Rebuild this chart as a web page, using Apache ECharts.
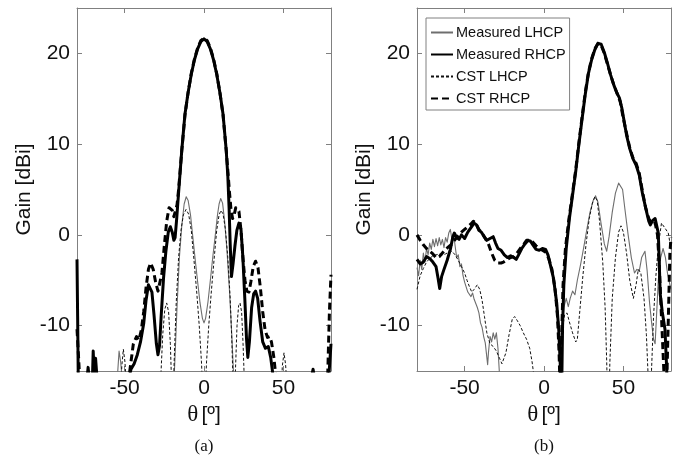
<!DOCTYPE html>
<html><head><meta charset="utf-8">
<script src="https://cdn.jsdelivr.net/npm/echarts@6/dist/echarts.min.js"></script>
<style>html,body{margin:0;padding:0;background:#fff}#c{width:686px;height:464px}</style>
</head><body><div id="c"></div>
<script>
// ---- axis ticks ----
const xTicks = [-50, 0, 50];
const yTicks = [-10, 0, 10, 20];
const seriesNames = ['Measured LHCP', 'Measured RHCP', 'CST LHCP', 'CST RHCP'];
const panelLabels = ['(a)', '(b)'];

// ---- panel (a): [theta (deg), gain (dBi)] ----
const aMeasLHCP = [[-80,-20],[-56,-20],[-54.5,-15.5],[-53.5,-12.8],[-52.5,-14],[-51.5,-16],[-50,-20],[-21,-20],[-19.5,-17],[-18.5,-14.5],[-17,-8],[-15.5,-2.5],[-14,1],[-12.5,3.4],[-11.2,4.2],[-10,3.8],[-8.5,2.2],[-7,-0.3],[-5.5,-2.8],[-4,-5.2],[-2.5,-7.5],[-1,-9.2],[0,-9.7],[1,-9.2],[2.5,-7.4],[4,-5],[5.5,-2.5],[7,-0.2],[8.5,2.2],[9.5,3.4],[10.5,4.0],[11.7,3.5],[13,1.5],[14.5,-1.8],[16,-6],[17.5,-11],[18.5,-14.8],[19.5,-18],[21,-20],[80,-20]];
const aMeasRHCP = [[-80,-2.7],[-79.6,-9],[-79.2,-16],[-78,-20],[-74.5,-20],[-73.5,-15.5],[-73,-14.6],[-72.3,-15.8],[-71,-20],[-70.3,-16],[-69.8,-12.8],[-69.2,-15.2],[-68.3,-13.6],[-67.3,-16],[-66,-20],[-50,-20],[-48,-16.5],[-46,-14.8],[-44,-14.2],[-42,-13.2],[-40,-11.8],[-38,-9.8],[-36.5,-7.2],[-35,-5.5],[-34,-5.3],[-32.8,-6.3],[-31.5,-8.8],[-30,-12],[-29,-13.2],[-28,-12.2],[-27,-9],[-25.5,-4.8],[-24,-1.8],[-22.5,0.3],[-21.2,0.9],[-20,0.3],[-19,-0.6],[-18.2,-0.3],[-17.2,1.8],[-16.2,4.2],[-15,7],[-14,9.3],[-12,13.3],[-10,15.7],[-8,17.7],[-6,19.3],[-4,20.5],[-2,21.3],[0,21.6],[2,21.3],[4,20.5],[6,19.3],[8,17.7],[10,15.7],[12,13.3],[14,9.3],[15,6.5],[15.8,3],[16.5,-1],[17.3,-4.6],[18.3,-3.2],[19.5,-1.2],[20.7,0.5],[22,1.3],[23.3,0.6],[24.5,-2.5],[25.7,-7],[26.8,-11.5],[27.6,-13.5],[28.6,-11.8],[30,-8],[31.3,-6.5],[32.5,-6.2],[33.8,-7],[35.3,-9.5],[37,-11.8],[38.7,-12.5],[40.5,-12.3],[42,-13.5],[43.5,-15.5],[45,-20],[66.5,-20],[67.8,-15.6],[68.7,-14.8],[69.6,-15.8],[71,-20],[77.5,-20],[78.5,-16],[80,-12]];
const aCstLHCP = [[-80,-20],[-53,-20],[-51.8,-14.5],[-50.8,-12.6],[-49.8,-14],[-48.8,-17],[-47,-20],[-28.5,-20],[-27.3,-16],[-26,-11],[-24.7,-8.2],[-23.5,-7.5],[-22.3,-8.5],[-21.2,-12],[-20.3,-17],[-19.6,-20],[-18.8,-14],[-17.5,-7.5],[-16,-2.5],[-14.5,0.5],[-13,2.2],[-11.3,2.8],[-9.7,2.3],[-8,0.5],[-6.3,-2.8],[-4.5,-6.5],[-3,-10],[-1.6,-14],[-0.6,-18],[0,-22],[0.6,-18],[1.6,-14],[3,-10],[4.5,-6.5],[6.3,-2.8],[8,0.5],[9.5,2.2],[10.7,2.7],[12,2.3],[13.5,0.6],[15,-2.5],[16.5,-7],[17.6,-12],[18.4,-17],[19,-20],[19.8,-15],[20.8,-10],[21.8,-7.8],[22.7,-7.5],[23.7,-8.5],[24.6,-12],[25.4,-16],[26.2,-20],[48.5,-20],[49.3,-14.5],[50.4,-13],[51.4,-14.3],[52.4,-17],[53.5,-20],[80,-20]];
const aCstRHCP = [[-80,-10.4],[-79,-13.5],[-78,-17],[-77,-20],[-49,-20],[-47.5,-16],[-46,-14],[-44.5,-12],[-42.5,-11.2],[-41,-11.6],[-39.5,-10.5],[-38,-8.5],[-36.5,-5.8],[-35,-3.8],[-33.6,-3.1],[-32,-3.8],[-30.5,-5.2],[-29,-6.2],[-27.8,-6],[-26.5,-4.2],[-25,-1.2],[-23.5,1.5],[-22,3],[-21,3.2],[-20,2.7],[-19,2],[-18,2.2],[-17,3.3],[-16,5],[-15,7.1],[-14,9.3],[-12,13.2],[-10,15.7],[-8,17.8],[-6,19.4],[-4,20.6],[-2,21.4],[0,21.7],[2,21.4],[4,20.6],[6,19.4],[8,17.8],[10,15.7],[12,13.2],[14,9.3],[15,7.1],[16,4.8],[17,2.8],[18,1.8],[19,2.2],[20,3],[21,3.2],[22,2.6],[23.3,0.5],[24.5,-2.5],[25.8,-5],[27,-6.2],[28.3,-6.3],[29.5,-5.2],[31,-3.5],[32.5,-2.9],[34,-3.6],[35.5,-5.8],[37,-8.5],[38.5,-10.5],[40,-11.3],[41.3,-11.2],[42.5,-11.8],[44,-13.5],[45.5,-16],[47,-20],[77,-20],[78,-15],[79,-8.5],[80,-4.4]];

// ---- panel (b): [theta (deg), gain (dBi)] ----
const bMeasLHCP = [[-80,-3.6],[-79,-4.5],[-78,-2.8],[-77,-3.8],[-76,-2],[-75,-3],[-74,-1.5],[-73,-2.2],[-72,-0.9],[-71,-1.6],[-70,-0.5],[-69,-1.3],[-68,-0.4],[-67,-1.2],[-66,-0.3],[-65,-1.1],[-64,-0.5],[-63,-1.4],[-62,-0.3],[-61,-0.8],[-60,0.2],[-59,0.6],[-58,-0.5],[-57,0.2],[-56,-1.2],[-55,-2.5],[-54,-2.2],[-53,-3.5],[-52,-3.2],[-51,-4.5],[-50,-5.2],[-49,-5],[-48,-6.3],[-47,-6.5],[-46,-6.8],[-45,-6.4],[-44,-7.1],[-43,-6.9],[-42,-8],[-41,-8.6],[-40,-9.7],[-39,-10.2],[-38,-11.2],[-37,-11.9],[-36,-13.5],[-35.5,-14.3],[-35,-13],[-34,-11.2],[-33,-11.8],[-32,-10.8],[-31,-11.5],[-30,-10.8],[-29,-12.5],[-28,-15.5],[-27,-20],[8.5,-20],[10,-15],[11.2,-11],[12.5,-8],[14,-7],[15.3,-7.9],[16.5,-7],[18,-6.2],[19.5,-6.6],[21,-5],[23,-3.3],[25,-1.4],[27,0.6],[29,2.5],[31,3.8],[32.5,4.3],[34,3.6],[36,1.2],[38,-1],[39.5,-1.8],[41,-0.2],[43,2.5],[45,4.6],[47,5.7],[48,5.8],[49.5,5],[51,2.8],[53,0],[55,-2.5],[57,-4.2],[58.5,-3.8],[60,-4],[61.5,-2.5],[63.6,-1.8],[65,-4],[66.5,-7.5],[67.8,-9.7],[69,-11.5],[70,-12],[71,-8.5],[72,-5],[73.5,-2.5],[75,-1.5],[76.5,-2.5],[78,-4.5],[80,-6]];
const bMeasRHCP = [[-80,-2.7],[-78,-3.2],[-76,-3],[-74,-2.4],[-72,-2.6],[-70,-3],[-68,-3.5],[-66.7,-4.8],[-65.7,-5.9],[-64.5,-4.6],[-63,-3.8],[-61,-2.8],[-59,-1.6],[-57.5,-0.3],[-56.5,0.2],[-55,-0.3],[-53.5,-0.5],[-52,0],[-50,-0.4],[-48,0.3],[-46,0.8],[-44,1.3],[-42.5,1.1],[-41,0.5],[-39.5,0.3],[-38,-0.1],[-36,-0.6],[-34,-0.4],[-32,-0.2],[-30.5,-0.9],[-29,-1.5],[-27,-1.7],[-25,-2.2],[-23,-2.5],[-21,-2.3],[-19,-2.5],[-17.5,-2.7],[-16,-2.2],[-14,-1.5],[-12,-1],[-10,-0.6],[-8.5,-0.7],[-7,-1.1],[-5,-1.6],[-3,-1.7],[-1,-1.5],[1,-1.6],[2.5,-2.2],[4,-3.3],[6,-4.8],[8,-7.5],[9.3,-10.5],[10.3,-14.5],[11,-19],[11.7,-10],[12.5,-5.5],[14,-1.5],[16,1.8],[18,4.4],[20,7],[22,10],[24,12.8],[26,15.5],[28,17.8],[30,19.3],[32,20.4],[34,21.1],[35,21.2],[36,21],[38,20.1],[40,18.9],[42,17.6],[44,16.5],[46,15.6],[47.5,15.1],[49,14],[50.5,12.5],[52,11],[54,9.5],[56,8.4],[58,7.7],[60,6.6],[62,4.6],[64,3],[66,1.5],[67,1.1],[68.5,1.6],[70,1.8],[71,1.0],[72,0.2],[72.6,-3],[73.2,-6.5],[74.5,-8.5],[76.2,-10.4],[77.3,-14.8],[78,-19],[80,-22]];
const bCstLHCP = [[-80,-6],[-78,-4.5],[-76,-3.7],[-74,-3],[-72,-2.6],[-70,-2.3],[-68,-2.2],[-66,-2.1],[-64,-2.2],[-62,-2.1],[-60,-1.9],[-58,-1.8],[-56,-2.2],[-54,-2.8],[-52,-3.5],[-50,-4.2],[-48.5,-5],[-47,-5.7],[-45.5,-6.3],[-44,-6],[-42,-5.5],[-40.5,-6],[-39,-7.2],[-37.5,-9],[-36,-10.8],[-34,-12],[-32,-12.3],[-30,-12.8],[-28,-13.6],[-26.5,-14.2],[-25.5,-14.3],[-24,-13],[-22,-11],[-20,-9.3],[-18.5,-9],[-17,-9.4],[-15,-10],[-13,-10.8],[-11,-11.5],[-9,-12.5],[-7.5,-14],[-6,-16],[-5,-20],[8,-20],[10,-15],[11.5,-10.5],[13,-8.8],[14.5,-8.6],[16,-9.6],[18,-10.8],[20,-11.8],[21,-11.5],[22.5,-8.5],[24.5,-4.5],[26.5,-1],[28.5,1.8],[30.5,3.5],[32,4.2],[33.5,3.8],[35,1.5],[37,-3],[38.5,-8],[39.5,-14],[40.5,-22],[41.5,-14],[43,-7],[45,-2.5],[47,0.3],[48.5,1.0],[50,0.3],[52,-2],[54,-5],[56.3,-7.0],[58,-5.5],[59.4,-3.8],[61,-4.2],[63,-7],[64.5,-11],[65.7,-16],[66.5,-22],[67.5,-16],[69,-9],[70.5,-4.5],[72,-1.2],[74,1.3],[76,0.8],[78.3,0.2],[80,-1.6]];
const bCstRHCP = [[-80,0],[-78,-0.6],[-76,-1.1],[-74,-1.5],[-72,-1.8],[-70,-2.1],[-68,-2.5],[-66,-2.4],[-64,-2],[-62,-1.6],[-60,-1.3],[-58,-1],[-56,-0.5],[-54,-0.1],[-52,0.3],[-50,0.6],[-48,0.9],[-46,1.2],[-44.5,1.5],[-43,1.3],[-41,0.6],[-39,0.2],[-37,-0.4],[-35,-1],[-33,-2],[-31,-2.8],[-29,-3.1],[-27,-3.1],[-25.5,-3],[-23,-2.7],[-21,-2.5],[-19,-2.4],[-17,-2],[-15,-1.5],[-13,-1.1],[-11,-0.6],[-9,-0.6],[-7,-0.8],[-5,-1.2],[-3,-1.5],[-1,-1.7],[1,-1.9],[3,-2.6],[5,-3.8],[7,-6],[8.5,-9],[9.5,-13],[10.3,-18],[11,-12],[12,-5.5],[13.5,-1.5],[15.5,1.5],[17.5,4],[20,7.2],[22,10.2],[24,13],[26,15.7],[28,17.9],[30,19.4],[32,20.5],[34,21.1],[35,21.1],[36,20.9],[38,20],[40,18.8],[42,17.6],[44,16.5],[46,15.6],[48,14.7],[50,12.8],[52,11.2],[54,9.6],[56,8.5],[58,7.9],[60,6.8],[62,4.8],[64,3],[66,1.8],[68,1.2],[70,1.3],[71.5,0],[72.5,-3],[73.5,-7],[74.5,-11],[75.5,-15],[76.5,-20],[77.5,-15],[78.5,-8],[79.3,-2],[80,-0.3]];

const panels = [
  [aMeasLHCP, aMeasRHCP, aCstLHCP, aCstRHCP],
  [bMeasLHCP, bMeasRHCP, bCstLHCP, bCstRHCP]
];

const SANS = 'Liberation Sans, Arial, sans-serif';
const SERIF = 'Liberation Serif, Times New Roman, serif';
const boxColor = '#808080';
const styles = [
  {color: '#6e6e6e', width: 1.1, type: 'solid'},
  {color: '#000000', width: 3, type: 'solid'},
  {color: '#111111', width: 1, type: [3, 2]},
  {color: '#000000', width: 3, type: [7, 4]}
];

const grids = [
  {left: 77, top: 8, width: 254, height: 363},
  {left: 417, top: 8, width: 254, height: 363}
];

const xAxes = [], yAxes = [], series = [];
grids.forEach((g, gi) => {
  const tick = {show: true, inside: true, length: 5, lineStyle: {color: boxColor, width: 1}};
  xAxes.push({
    type: 'value', gridIndex: gi, position: 'bottom', min: -80, max: 80,
    axisLine: {show: true, onZero: false, lineStyle: {color: boxColor, width: 1}},
    axisTick: Object.assign({customValues: xTicks}, tick),
    axisLabel: {customValues: xTicks, fontSize: 21, fontFamily: SANS, color: '#111', margin: 7},
    splitLine: {show: false},
    name: '{t|θ} {s|[º]}', nameLocation: 'middle', nameGap: 24,
    nameTextStyle: {rich: {t: {fontFamily: SERIF, fontSize: 23, color: '#111'}, s: {fontFamily: SANS, fontSize: 21, color: '#111'}}}
  });
  xAxes.push({
    type: 'value', gridIndex: gi, position: 'top', min: -80, max: 80,
    axisLine: {show: true, onZero: false, lineStyle: {color: boxColor, width: 1}},
    axisTick: Object.assign({customValues: xTicks}, tick),
    axisLabel: {show: false}, splitLine: {show: false}
  });
  yAxes.push({
    type: 'value', gridIndex: gi, position: 'left', min: -15, max: 25,
    axisLine: {show: true, onZero: false, lineStyle: {color: boxColor, width: 1}},
    axisTick: Object.assign({customValues: yTicks}, tick),
    axisLabel: {customValues: yTicks, fontSize: 21, fontFamily: SANS, color: '#111', margin: 7},
    splitLine: {show: false},
    name: 'Gain [dBi]', nameLocation: 'middle', nameGap: 42, nameRotate: 90,
    nameTextStyle: {fontSize: 21, fontFamily: SANS, color: '#111'}
  });
  yAxes.push({
    type: 'value', gridIndex: gi, position: 'right', min: -15, max: 25,
    axisLine: {show: true, onZero: false, lineStyle: {color: boxColor, width: 1}},
    axisTick: Object.assign({customValues: yTicks}, tick),
    axisLabel: {show: false}, splitLine: {show: false}
  });
  panels[gi].forEach((data, si) => {
    series.push({
      type: 'line', name: seriesNames[si], data: data,
      xAxisIndex: gi * 2, yAxisIndex: gi * 2,
      symbol: 'none', showSymbol: false, clip: true, z: 2 + si,
      lineStyle: Object.assign({cap: 'butt', join: 'round'}, styles[si]),
      itemStyle: {color: styles[si].color},
      emphasis: {disabled: true}
    });
  });
});

const chart = echarts.init(document.getElementById('c'), null, {renderer: 'canvas'});
chart.setOption({
  animation: false,
  backgroundColor: '#ffffff',
  grid: grids,
  xAxis: xAxes,
  yAxis: yAxes,
  series: series,
  legend: {
    data: seriesNames, orient: 'vertical', left: 426, top: 18,
    selectedMode: false, itemWidth: 22, itemHeight: 14, itemGap: 7,
    itemStyle: {opacity: 0},
    padding: [7, 4, 4, 4], borderColor: '#808080', borderWidth: 1, backgroundColor: '#fff',
    textStyle: {fontSize: 14.5, fontFamily: SANS, color: '#111', padding: [0, 0, 0, -2]}
  },
  graphic: panelLabels.map((t, i) => ({
    type: 'text', x: grids[i].left + 127, y: 447,
    style: {text: t, font: '17px ' + SERIF, fill: '#111', textAlign: 'center', textVerticalAlign: 'middle'}
  }))
});
</script></body></html>
